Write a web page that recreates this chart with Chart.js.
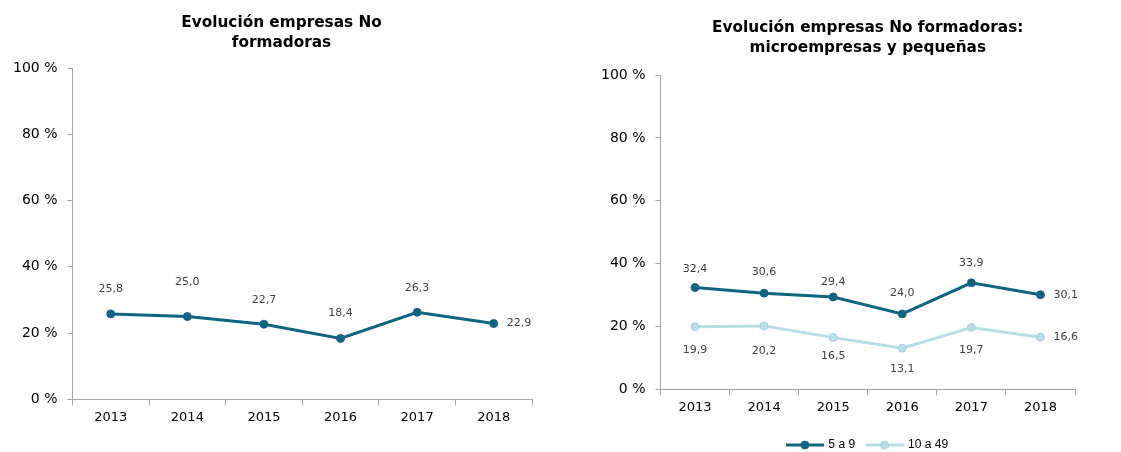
<!DOCTYPE html>
<html>
<head>
<meta charset="utf-8">
<script src="https://cdn.jsdelivr.net/npm/chart.js@4"></script>
<style>
  body { margin: 0; background: #fff; }
  #left { position: absolute; left: 0; top: 0; }
  #right { position: absolute; left: 560px; top: 0; }
</style>
</head>
<body>
<canvas id="left" width="560" height="452"></canvas>
<canvas id="right" width="561" height="452"></canvas>
<script>
const years = ['2013', '2014', '2015', '2016', '2017', '2018'];
const noFormadoras = [25.8, 25.0, 22.7, 18.4, 26.3, 22.9];
const de5a9 = [32.4, 30.6, 29.4, 24.0, 33.9, 30.1];
const de10a49 = [19.9, 20.2, 16.5, 13.1, 19.7, 16.6];
const yTicks = [0, 20, 40, 60, 80, 100];

// distance of each value label from its point (last one goes to the right)
const gapNoFormadoras = [25, 34, 24, 25, 24];
const gap5a9 = [18, 21, 15, 21, 20];
const gap10a49 = [23, 25, 19, 21, 23];

const DARK = '#0C6680';
const LIGHT = '#B7DDE5';
const AXIS = '#A6A6A6';
const FONT = "'DejaVu Sans', Verdana, sans-serif";
const TITLE_SIZE = 15.3;

const fmt = v => v.toFixed(1).replace('.', ',');

// value labels, drawn by hand since there is no datalabels plugin here
const valueLabels = {
  id: 'valueLabels',
  afterDatasetsDraw(chart) {
    const ctx = chart.ctx;
    ctx.save();
    ctx.font = '11px ' + FONT;
    ctx.fillStyle = '#404040';
    ctx.textBaseline = 'middle';
    chart.data.datasets.forEach((ds, i) => {
      const meta = chart.getDatasetMeta(i);
      meta.data.forEach((pt, j) => {
        const txt = fmt(ds.data[j]);
        if (j === ds.data.length - 1) {
          ctx.textAlign = 'left';
          ctx.fillText(txt, pt.x + 13, pt.y);
        } else {
          const g = ds.labelGaps[j];
          ctx.textAlign = 'center';
          ctx.fillText(txt, pt.x, ds.labelSide === 'below' ? pt.y + g : pt.y - g);
        }
      });
    });
    ctx.restore();
  }
};

function legendIcon(color, border) {
  const c = document.createElement('canvas');
  c.width = 38; c.height = 10;
  const g = c.getContext('2d');
  g.strokeStyle = color;
  g.lineWidth = 3;
  g.beginPath(); g.moveTo(0, 5); g.lineTo(38, 5); g.stroke();
  g.fillStyle = color;
  g.strokeStyle = border;
  g.lineWidth = 1;
  g.beginPath(); g.arc(19, 5, 4, 0, Math.PI * 2); g.fill(); g.stroke();
  return c;
}

function makeDataset(label, data, color, pointBorder, gaps, side) {
  return {
    label: label,
    data: data,
    borderColor: color,
    backgroundColor: color,
    borderWidth: 3,
    tension: 0,
    pointRadius: 4,
    pointHoverRadius: 4,
    pointBackgroundColor: color,
    pointBorderColor: pointBorder,
    pointBorderWidth: 1,
    labelGaps: gaps,
    labelSide: side,
    legendIcon: legendIcon(color, pointBorder)
  };
}

function scales(xPad, extraX, rightGap) {
  const s = {
    x: {
      offset: true,
      grid: { display: true, drawOnChartArea: false, offset: true, tickLength: 6, color: AXIS },
      border: { color: AXIS },
      ticks: { color: '#000', font: { family: FONT, size: 13 }, padding: xPad },
      afterFit: sc => { sc.height += extraX; }
    },
    y: {
      min: 0,
      max: 100,
      afterBuildTicks: axis => { axis.ticks = yTicks.map(v => ({ value: v })); },
      grid: { display: true, drawOnChartArea: false, tickLength: 5, color: AXIS },
      border: { color: AXIS },
      ticks: { color: '#000', font: { family: FONT, size: 14 }, padding: 10, callback: v => v + ' %' }
    }
  };
  if (rightGap) {
    // empty right-hand axis used only as spacing, so the title stays centred on the canvas
    s.yGap = {
      position: 'right',
      grid: { display: false },
      border: { display: false },
      ticks: { display: false },
      afterFit: sc => { sc.width = rightGap; }
    };
  }
  return s;
}

new Chart(document.getElementById('left'), {
  type: 'line',
  data: {
    labels: years,
    datasets: [makeDataset('No formadoras', noFormadoras, DARK, '#2A5E8C', gapNoFormadoras, 'above')]
  },
  options: {
    responsive: false,
    animation: false,
    layout: { padding: { left: 3, right: 0, top: 0, bottom: 23 } },
    plugins: {
      legend: { display: false },
      tooltip: { enabled: false },
      title: {
        display: true,
        text: ['Evolución empresas No', 'formadoras'],
        color: '#000',
        font: { family: FONT, size: TITLE_SIZE, weight: 'bold', lineHeight: 20 / TITLE_SIZE },
        padding: { top: 13, bottom: 15 }
      }
    },
    scales: scales(4, 0, 28)
  },
  plugins: [valueLabels]
});

new Chart(document.getElementById('right'), {
  type: 'line',
  data: {
    labels: years,
    datasets: [
      makeDataset('5 a 9', de5a9, DARK, '#2A5E8C', gap5a9, 'above'),
      makeDataset('10 a 49', de10a49, LIGHT, '#A8D2DC', gap10a49, 'below')
    ]
  },
  options: {
    responsive: false,
    animation: false,
    layout: { padding: { left: 31, right: 46, top: 0, bottom: -9 } },
    plugins: {
      tooltip: { enabled: false },
      title: {
        display: true,
        fullSize: false,
        text: ['Evolución empresas No formadoras:', 'microempresas y pequeñas'],
        color: '#000',
        font: { family: FONT, size: TITLE_SIZE, weight: 'bold', lineHeight: 20 / TITLE_SIZE },
        padding: { top: 18, bottom: 17 }
      },
      legend: {
        position: 'bottom',
        fullSize: false,
        labels: {
          usePointStyle: true,
          pointStyleWidth: 35,
          boxHeight: 10,
          padding: 12,
          color: '#000',
          font: { family: "'Liberation Sans', Arial, sans-serif", size: 12 },
          generateLabels: chart => chart.data.datasets.map((ds, i) => ({
            text: ds.label,
            pointStyle: ds.legendIcon,
            fillStyle: ds.borderColor,
            strokeStyle: ds.borderColor,
            lineWidth: 0,
            hidden: false,
            datasetIndex: i
          }))
        }
      }
    },
    scales: scales(4, 8, 0)
  },
  plugins: [valueLabels]
});
</script>
</body>
</html>
